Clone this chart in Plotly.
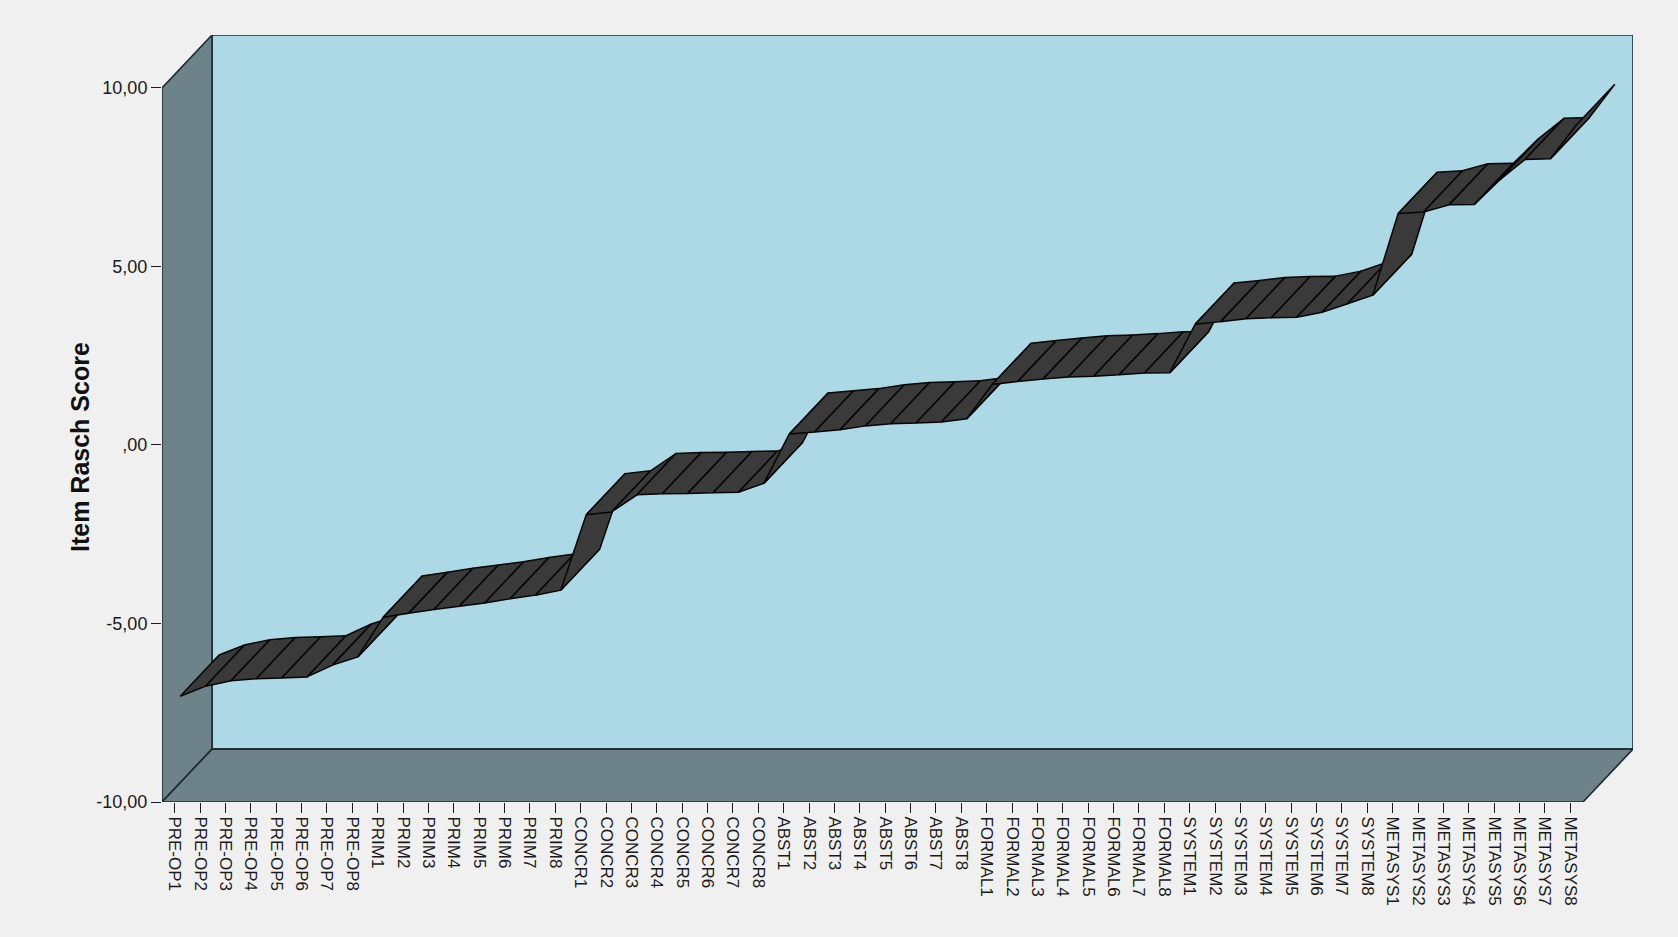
import plotly.graph_objects as go

# ---------------- data ----------------
groups = ["PRE-OP", "PRIM", "CONCR", "ABST", "FORMAL", "SYSTEM", "METASYS"]
categories = [g + str(k) for g in groups for k in range(1, 9)]

values = [
    -7.20, -6.92, -6.77, -6.71, -6.69, -6.66, -6.33, -6.10,   # PRE-OP
    -4.99, -4.88, -4.77, -4.68, -4.59, -4.47, -4.37, -4.23,   # PRIM
    -2.12, -2.04, -1.56, -1.53, -1.52, -1.50, -1.49, -1.24,   # CONCR
     0.14,  0.20,  0.26,  0.37,  0.43,  0.45,  0.48,  0.57,   # ABST
     1.53,  1.61,  1.68,  1.74,  1.76,  1.80,  1.85,  1.86,   # FORMAL
     3.22,  3.29,  3.37,  3.40,  3.41,  3.55,  3.79,  4.03,   # SYSTEM
     6.32,  6.36,  6.56,  6.57,  7.26,  7.83,  7.85,  8.78,   # METASYS
]

y_tickvals = [-10, -5, 0, 5, 10]
y_ticktext = ["-10,00", "-5,00", ",00", "5,00", "10,00"]
y_title = "Item Rasch Score"

# ---------------- 3D geometry (axis units) ----------------
DX, DY = 1.97, 1.48        # depth of the box, in category / value units
F1, F2 = 0.11, 0.89        # ribbon front/back position within the depth
YMIN, YMAX = -10, 10
n = len(categories)
XL, XR = -0.5, n - 0.5

BACK = "#add8e6"
SIDE = "#6d8289"
EDGE = "#1c2b31"
RIB = "#3a3a3a"
BG = "#f0f0f0"

fig = go.Figure()

# ribbon: one parallelogram per segment, painted left to right
for i in range(n - 1):
    x0, x1 = i, i + 1
    v0, v1 = values[i], values[i + 1]
    qx = [x0 + F1 * DX, x1 + F1 * DX, x1 + F2 * DX, x0 + F2 * DX, x0 + F1 * DX]
    qy = [v0 + F1 * DY, v1 + F1 * DY, v1 + F2 * DY, v0 + F2 * DY, v0 + F1 * DY]
    fig.add_trace(go.Scatter(
        x=qx, y=qy, mode="lines", fill="toself", fillcolor=RIB,
        line=dict(color="#050505", width=1.5), hoverinfo="skip", showlegend=False,
    ))

def path(pts):
    return "M " + " L ".join(f"{x},{y}" for x, y in pts) + " Z"

shapes = [
    # back wall
    dict(type="path", xref="x", yref="y", layer="below",
         path=path([(XL + DX, YMIN + DY), (XR + DX, YMIN + DY), (XR + DX, YMAX + DY), (XL + DX, YMAX + DY)]),
         fillcolor=BACK, line=dict(color=EDGE, width=1.6)),
    # left wall
    dict(type="path", xref="x", yref="y", layer="below",
         path=path([(XL, YMIN), (XL, YMAX), (XL + DX, YMAX + DY), (XL + DX, YMIN + DY)]),
         fillcolor=SIDE, line=dict(color=EDGE, width=1.6)),
    # floor
    dict(type="path", xref="x", yref="y", layer="below",
         path=path([(XL, YMIN), (XR, YMIN), (XR + DX, YMIN + DY), (XL + DX, YMIN + DY)]),
         fillcolor=SIDE, line=dict(color=EDGE, width=1.6)),
]

fig.update_layout(
    width=1678, height=937,
    margin=dict(l=162, r=45, t=35, b=135, autoexpand=False),
    paper_bgcolor=BG, plot_bgcolor=BG,
    shapes=shapes,
    showlegend=False,
    font=dict(family="Liberation Sans, Arial, sans-serif", color="#1a1a1a"),
    xaxis=dict(
        range=[XL, XR + DX], tickmode="array", tickvals=list(range(n)), ticktext=categories,
        tickangle=90, ticks="outside", ticklen=10, tickwidth=1.4, tickcolor="#1a1a1a",
        showline=False, showgrid=False, zeroline=False, tickfont=dict(size=17),
        fixedrange=True,
    ),
    yaxis=dict(
        range=[YMIN, YMAX + DY], tickmode="array", tickvals=y_tickvals, ticktext=y_ticktext,
        ticks="outside", ticklen=10, tickwidth=1.4, tickcolor="#1a1a1a",
        showline=False, showgrid=False, zeroline=False, tickfont=dict(size=18),
        fixedrange=True,
    ),
    annotations=[dict(
        text="<b>" + y_title + "</b>", xref="paper", yref="paper",
        x=(80 - 162) / 1471, y=1 - (447 - 35) / 767, textangle=-90,
        showarrow=False, font=dict(size=25, color="#111"), xanchor="center", yanchor="middle",
    )],
)

fig.write_html("out.html")
